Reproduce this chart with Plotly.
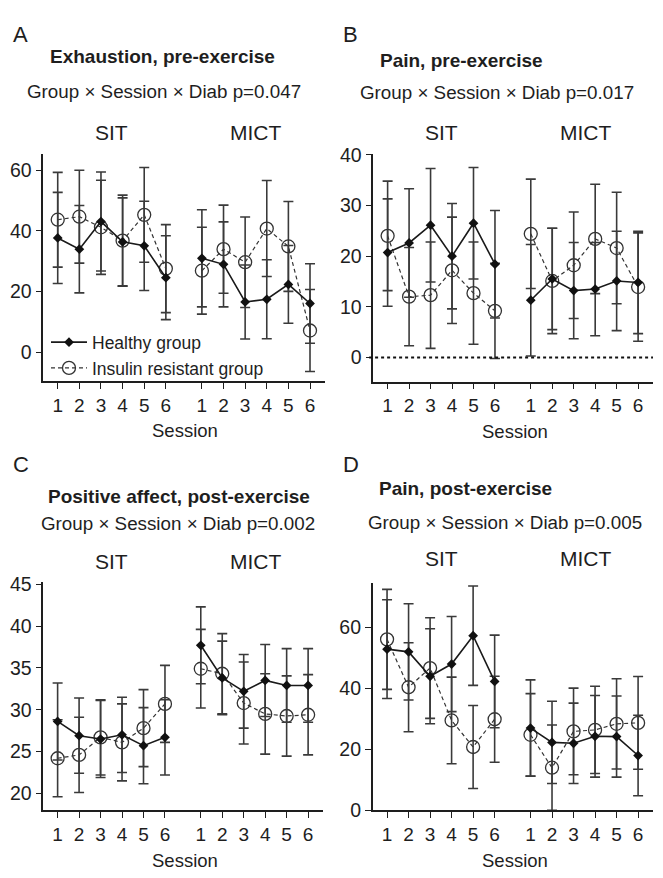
import plotly.graph_objects as go

W, H = 663, 878

# ---------------- data ----------------
session_labels = ["1", "2", "3", "4", "5", "6"]
groups = ["SIT", "MICT"]

# each list: SIT sessions 1-6 followed by MICT sessions 1-6
A_healthy = [37.7, 34.0, 43.1, 36.4, 35.1, 24.6, 31.0, 29.0, 16.6, 17.5, 22.4, 16.1]
A_healthy_sd = [15.0, 14.4, 16.3, 14.5, 14.7, 13.8, 16.0, 14.0, 12.2, 13.0, 12.8, 13.1]
A_ir = [43.7, 44.7, 41.2, 36.8, 45.3, 27.6, 26.9, 34.0, 29.7, 40.8, 34.9, 7.2]
A_ir_sd = [15.6, 15.3, 15.5, 15.0, 15.6, 14.5, 14.3, 14.5, 14.9, 15.8, 14.8, 13.5]

B_healthy = [20.7, 22.6, 26.1, 20.0, 26.5, 18.4, 11.3, 15.5, 13.2, 13.5, 15.1, 14.8]
B_healthy_sd = [10.6, 10.7, 11.2, 10.4, 11.0, 10.6, 11.0, 10.0, 9.5, 9.2, 9.8, 10.1]
B_ir = [24.0, 12.0, 12.3, 17.2, 12.7, 9.2, 24.4, 15.1, 18.2, 23.4, 21.6, 13.9]
B_ir_sd = [10.8, 9.7, 10.5, 10.5, 10.1, 9.4, 10.8, 10.4, 10.5, 10.8, 11.0, 10.7]

C_healthy = [28.6, 26.9, 26.5, 27.0, 25.7, 26.7, 37.7, 33.8, 32.2, 33.5, 32.9, 32.9]
C_healthy_sd = [4.6, 4.5, 4.6, 4.5, 4.55, 4.5, 4.6, 4.4, 4.4, 4.3, 4.4, 4.4]
C_ir = [24.2, 24.6, 26.7, 26.1, 27.8, 30.7, 34.9, 34.3, 30.8, 29.5, 29.25, 29.4]
C_ir_sd = [4.6, 4.5, 4.5, 4.6, 4.6, 4.6, 4.7, 4.8, 4.9, 4.8, 4.8, 4.8]

D_healthy = [52.9, 52.0, 44.0, 48.0, 57.3, 42.3, 27.0, 22.3, 22.0, 24.3, 24.2, 18.0]
D_healthy_sd = [16.2, 15.8, 15.6, 15.6, 16.3, 15.2, 15.8, 13.5, 13.2, 13.4, 13.3, 13.2]
D_ir = [56.1, 40.4, 46.7, 29.5, 20.8, 29.9, 24.8, 14.0, 25.9, 26.4, 28.4, 28.7]
D_ir_sd = [16.4, 14.6, 16.5, 14.2, 13.6, 14.1, 13.5, 14.0, 14.2, 14.3, 14.8, 15.2]

panel_letters = ["A", "B", "C", "D"]
panel_titles = ["Exhaustion, pre-exercise", "Pain, pre-exercise",
                "Positive affect, post-exercise", "Pain, post-exercise"]
panel_stats = ["Group × Session × Diab p=0.047", "Group × Session × Diab p=0.017",
               "Group × Session × Diab p=0.002", "Group × Session × Diab p=0.005"]
y_ticks = [[0, 20, 40, 60], [0, 10, 20, 30, 40],
           [20, 25, 30, 35, 40, 45], [0, 20, 40, 60]]
series_names = ["Healthy group", "Insulin resistant group"]

# ---------------- layout constants ----------------
FONT = "Liberation Sans, Arial, Helvetica, sans-serif"
INK = "#1e1e1e"
GAP = 6.667  # x offset of the MICT block
n = len(session_labels)
x_sit = [i + 1 for i in range(n)]
x_mict = [i + 1 + GAP for i in range(n)]


def gx(vals):
    return vals[:n] + [None] + vals[n:]


xs = x_sit + [None] + x_mict

# pixel boxes for each panel: (left, right, top, bottom)
boxes = [(43.3, 325, 148, 380), (373.3, 653, 147.3, 380.7),
         (43.3, 323, 586, 820), (372.7, 653, 586.7, 820)]
y_ranges = [[-9.4, 65.2], [-4.76, 40.2], [17.97, 45.27], [0, 74.7]]
x_range = [0.333, 13.36]

panels = [(A_healthy, A_healthy_sd, A_ir, A_ir_sd),
          (B_healthy, B_healthy_sd, B_ir, B_ir_sd),
          (C_healthy, C_healthy_sd, C_ir, C_ir_sd),
          (D_healthy, D_healthy_sd, D_ir, D_ir_sd)]

fig = go.Figure()


def px_x(p):
    return p / W


def px_y(p):
    return 1 - p / H


for k, (h, hsd, ir, irsd) in enumerate(panels):
    suffix = "" if k == 0 else str(k + 1)
    xa, ya = "x" + suffix, "y" + suffix
    fig.add_trace(go.Scatter(
        x=xs, y=gx(ir), xaxis=xa, yaxis=ya, name=series_names[1],
        mode="lines+markers", legendrank=2, showlegend=(k == 0),
        line=dict(color="#333333", width=1.2, dash="4px,3px"),
        marker=dict(symbol="circle-open", size=13, color="#333333",
                    line=dict(width=1.3, color="#333333")),
        error_y=dict(type="data", array=gx(irsd), visible=True,
                     color="#3a3a3a", thickness=1.6, width=5),
    ))
    fig.add_trace(go.Scatter(
        x=xs, y=gx(h), xaxis=xa, yaxis=ya, name=series_names[0],
        mode="lines+markers", legendrank=1, showlegend=(k == 0),
        line=dict(color="#1a1a1a", width=1.6),
        marker=dict(symbol="diamond", size=7.5, color="#111111"),
        error_y=dict(type="data", array=gx(hsd), visible=True,
                     color="#3a3a3a", thickness=1.6, width=5),
    ))

    l, r, t, b = boxes[k]
    axis_common = dict(showline=True, linecolor=INK, linewidth=1.6,
                       ticks="outside", ticklen=6, tickwidth=1.4, tickcolor=INK,
                       showgrid=False, zeroline=False)
    fig.update_layout(**{
        ("xaxis" + suffix): dict(
            domain=[px_x(l), px_x(r)], anchor=ya, range=x_range,
            tickvals=x_sit + x_mict, ticktext=session_labels * 2,
            tickfont=dict(family=FONT, size=19, color=INK), **axis_common),
        ("yaxis" + suffix): dict(
            domain=[px_y(b), px_y(t)], anchor=xa, range=y_ranges[k],
            tickvals=y_ticks[k],
            tickfont=dict(family=FONT, size=19.5, color=INK), **axis_common),
    })

    # text annotations
    ox = 0 if k % 2 == 0 else 330
    oy = 0 if k < 2 else 440
    title_cx = [162, 461, 179, 466][k]
    title_cy = [48, 52, 498, 490][k]
    stat_cx = [164, 497, 178, 505][k]
    stat_cy = [83, 85, 526, 525][k]
    grp_cy = [125, 125, 565, 562][k]
    ann = [
        dict(text=panel_letters[k], x=px_x(ox + 11), y=px_y(oy + 25 if k < 2 else oy + 26),
             xanchor="left", yanchor="middle", font=dict(size=22)),
        dict(text="<b>" + panel_titles[k] + "</b>", x=px_x(title_cx), y=px_y(title_cy),
             xanchor="center", yanchor="middle", font=dict(size=19)),
        dict(text=panel_stats[k], x=px_x(stat_cx), y=px_y(stat_cy),
             xanchor="center", yanchor="middle", font=dict(size=18.8)),
        dict(text=groups[0], x=px_x(l + 14.4 + 2.5 * 21.6), y=px_y(grp_cy),
             xanchor="center", yanchor="middle", font=dict(size=21)),
        dict(text=groups[1], x=px_x(l + 14.4 + (2.5 + GAP) * 21.6), y=px_y(grp_cy),
             xanchor="center", yanchor="middle", font=dict(size=21)),
        dict(text="Session", x=px_x(l + 142), y=px_y(b + 51),
             xanchor="center", yanchor="middle", font=dict(size=18.5)),
    ]
    for a in ann:
        a.update(xref="paper", yref="paper", showarrow=False)
        a["font"].update(family=FONT, color=INK)
        fig.add_annotation(**a)

# dotted zero line in panel B
fig.add_shape(type="line", xref="x2 domain", yref="y2", x0=-0.015, x1=1, y0=0, y1=0,
              line=dict(color="#111111", width=2, dash="dot"))

fig.update_layout(
    width=W, height=H, margin=dict(l=0, r=0, t=0, b=0),
    paper_bgcolor="white", plot_bgcolor="white",
    font=dict(family=FONT, color=INK),
    legend=dict(x=px_x(46), y=px_y(322), xanchor="left", yanchor="top",
                bgcolor="rgba(0,0,0,0)", font=dict(family=FONT, size=17.5, color=INK),
                tracegroupgap=0, itemwidth=36),
)

fig.write_html("out.html")
